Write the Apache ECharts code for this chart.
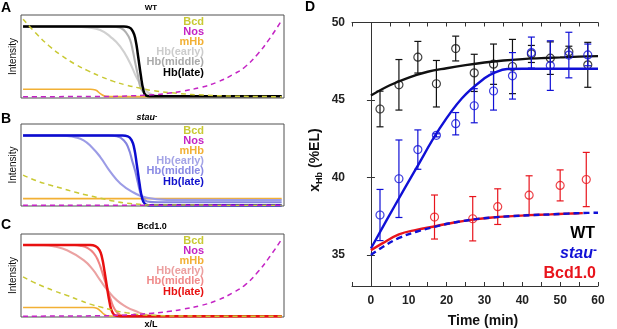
<!DOCTYPE html>
<html><head><meta charset="utf-8">
<script src="https://cdn.jsdelivr.net/npm/echarts@6/dist/echarts.min.js"></script>
<style>html,body{margin:0;padding:0;background:#fff}#c{width:617px;height:329px}</style>
</head><body><div id="c"></div>
<script>
// ---------- Panels A-C : schematic profiles [x/L, relative intensity 0-100] ----------
const aBcd = [[0,95],[0.05,78],[0.1,63],[0.15,51],[0.2,41],[0.25,33],[0.3,26],[0.35,20],[0.4,15.5],[0.45,12],[0.5,9],[0.6,5.5],[0.7,3.5],[0.8,2.4],[0.9,1.8],[1,1.6]];
const aNos = [[0,1.6],[0.3,1.8],[0.4,2.4],[0.5,3.8],[0.56,5.6],[0.62,8.5],[0.69,13],[0.75,19],[0.81,28],[0.86,38],[0.91,54],[0.95,70],[1,93.5]];
const aMHb = [[0,10.5],[0.26,10.5],[0.28,9.5],[0.3,5],[0.32,2],[0.35,1.6],[1,1.6]];
const aEarly = [[0,86],[0.2,86],[0.25,85],[0.298,82],[0.337,74],[0.376,62],[0.414,42],[0.44,24],[0.466,12],[0.5,4],[0.55,2],[1,1.6]];
const aMiddle = [[0,86],[0.33,86],[0.36,85.5],[0.38,84],[0.4,78],[0.414,70],[0.425,56],[0.434,42],[0.445,26],[0.453,14],[0.465,7],[0.48,3.5],[0.5,2],[1,1.6]];
const aLate = [[0,86],[0.39,86],[0.41,85],[0.425,80],[0.435,70],[0.445,50],[0.455,28],[0.465,10],[0.475,3],[0.49,2],[1,2]];

const bBcd = [[0,37.7],[0.05,31],[0.1,26],[0.15,21.5],[0.2,17],[0.25,13],[0.3,9.5],[0.35,6],[0.4,3.5],[0.45,2],[0.5,1.2],[1,1]];
const bNos = [[0,0.8],[1,0.8]];
const bMHb = [[0,9],[1,9]];
const bEarly = [[0,86],[0.14,86],[0.17,85.5],[0.2,84],[0.234,80],[0.265,72],[0.298,60],[0.337,42],[0.376,27.5],[0.427,16.5],[0.479,10],[0.556,7.5],[1,7.4]];
const bMiddle = [[0,86],[0.33,86],[0.362,85],[0.39,80],[0.408,70],[0.422,55],[0.434,42],[0.445,27],[0.453,17],[0.465,9],[0.48,5.5],[0.52,4.5],[1,4.5]];
const bLate = [[0,86],[0.385,86],[0.405,85],[0.42,80],[0.43,70],[0.44,50],[0.45,28],[0.46,10],[0.47,3],[0.485,1],[1,1]];

const cBcd = [[0,48.4],[0.04,42],[0.08,36.5],[0.12,31.5],[0.17,26],[0.22,20],[0.26,15.5],[0.3,12],[0.35,8],[0.4,5],[0.45,3],[0.5,2],[0.6,1.2],[1,0.8]];
const cNos = [[0,1],[0.3,1.5],[0.4,2.5],[0.5,4.5],[0.56,6.5],[0.62,9.5],[0.69,14],[0.75,20],[0.81,29],[0.86,39],[0.91,55],[0.95,71],[1,93.6]];
const cMHb = [[0,11.4],[0.27,11.4],[0.285,10.5],[0.3,7],[0.315,3],[0.33,1.2],[1,1]];
const cEarly = [[0,86.7],[0.08,86.5],[0.12,85],[0.17,80.5],[0.234,68.6],[0.27,57],[0.298,44.4],[0.33,31],[0.363,20],[0.4,12],[0.427,8],[0.49,2],[0.55,1],[1,0.8]];
const cMiddle = [[0,86.7],[0.2,86.7],[0.221,86],[0.25,83],[0.273,77],[0.29,68],[0.305,55],[0.324,36],[0.34,20],[0.355,9],[0.376,2.5],[0.4,1],[1,0.8]];
const cLate = [[0,86.7],[0.26,86.7],[0.28,85.5],[0.295,81],[0.305,72],[0.315,55],[0.325,35],[0.335,17],[0.345,6],[0.36,1.5],[0.4,0.8],[1,0.8]];

const legendLabels = ['Bcd','Nos','mHb','Hb(early)','Hb(middle)','Hb(late)'];

// ---------- Panel D : boundary position x_Hb (%EL) vs time (min) ----------
const wtTime   = [2.4, 7.4, 12.4, 17.3, 22.4, 27.3, 32.4, 37.4, 42.4, 47.4, 52.3, 57.3];
const wtMean   = [44.42, 45.98, 47.76, 46.05, 48.32, 46.75, 47.31, 47.16, 47.97, 47.7, 48.12, 47.27];
const wtErr    = [1.15, 1.63, 1.02, 1.5, 0.8, 1.2, 1.3, 1.75, 0.55, 1.05, 0.35, 1.45];
const stauTime = [2.4, 7.4, 12.4, 17.3, 22.4, 27.3, 32.4, 37.4, 42.4, 47.4, 52.3, 57.3];
const stauMean = [37.58, 39.92, 41.8, 42.72, 43.47, 44.63, 45.58, 46.56, 48.06, 47.22, 47.9, 47.91];
const stauErr  = [1.65, 2.5, 1.27, 0.1, 0.72, 1.1, 1.23, 1.5, 1.0, 1.6, 1.47, 0.7];
const bcdTime  = [16.8, 26.9, 33.5, 41.8, 50.0, 56.9];
const bcdMean  = [37.45, 37.34, 38.12, 38.86, 39.49, 39.87];
const bcdErr   = [1.42, 1.43, 1.15, 1.25, 1.0, 1.75];

const wtFitT = [0, 5, 10, 15, 20, 25, 30, 35, 40, 45, 50, 55, 60];
const wtFitY = [45.29, 45.95, 46.45, 46.82, 47.05, 47.25, 47.42, 47.55, 47.64, 47.7, 47.75, 47.8, 47.83];
const stauFitT = [0, 6, 12, 18, 24, 30, 33, 36, 40, 50, 60];
const stauFitY = [35.42, 38.05, 40.6, 43.1, 45.1, 46.4, 46.8, 47.0, 47.02, 47.02, 47.02];
const bcdFitT = [0, 3, 7.4, 12, 17.3, 22, 27.3, 32, 37.4, 42, 47.4, 52, 56];
const bcdFitY = [35.3, 35.75, 36.33, 36.62, 36.87, 37.1, 37.3, 37.42, 37.51, 37.57, 37.62, 37.67, 37.7];
const stauDashT = [0, 3, 7.4, 12, 17.3, 22, 27.3, 32, 37.4, 42, 47.4, 52, 56, 60];
const stauDashY = [35.0, 35.5, 36.1, 36.5, 36.85, 37.1, 37.3, 37.42, 37.51, 37.57, 37.62, 37.67, 37.71, 37.73];
const yTicks = [35, 40, 45, 50];

// ---------- styles ----------
const FONT = 'Liberation Sans, Arial, Helvetica, sans-serif';
const colBcd = '#c9c934', colNos = '#c424c4', colMHb = '#f2b034';
const panels = [
  {grid:{left:21, top:15, width:263, height:83}, sets:[aBcd,aNos,aMHb,aEarly,aMiddle,aLate], hb:['#d0d0d0','#b0b0b0','#000000'], hbText:['#cccccc','#aaaaaa','#000000']},
  {grid:{left:21, top:124, width:263, height:82}, sets:[bBcd,bNos,bMHb,bEarly,bMiddle,bLate], hb:['#9c9ce6','#8484e0','#0c0cd0'], hbText:['#a4a4e6','#8a8ae4','#1010cc']},
  {grid:{left:21, top:234, width:263, height:83}, sets:[cBcd,cNos,cMHb,cEarly,cMiddle,cLate], hb:['#eba2a2','#f08282','#e81010'], hbText:['#eca0a0','#f08a8a','#e81010']}
];

const grids = [], xAxes = [], yAxes = [], series = [], graphics = [];
panels.forEach((p, i) => {
  grids.push(Object.assign({show:true, borderColor:'#505050', borderWidth:1}, p.grid));
  xAxes.push({type:'value', gridIndex:i, min:-0.008, max:1.009, show:false});
  yAxes.push({type:'value', gridIndex:i, min:0, max:100, show:false});
  const mk = (data, color, width, dashed, z) => ({
    type:'line', xAxisIndex:i, yAxisIndex:i, data:data, showSymbol:false, silent:true,
    smooth:0.5, z:z,
    lineStyle:{color:color, width:width, type: dashed ? [5,4] : 'solid'}
  });
  series.push(mk(p.sets[2], colMHb, 1.6, false, 2));
  series.push(mk(p.sets[3], p.hb[0], 2.1, false, 3));
  series.push(mk(p.sets[4], p.hb[1], 2.1, false, 4));
  series.push(mk(p.sets[5], p.hb[2], 2.5, false, 5));
  series.push(mk(p.sets[0], colBcd, 1.5, true, 6));
  series.push(mk(p.sets[1], colNos, 1.5, true, 7));
  const textCols = [colBcd, colNos, colMHb].concat(p.hbText);
  legendLabels.forEach((lab, k) => {
    graphics.push({type:'text', x:204, y:p.grid.top + 7 + k*10.1, z:10, silent:true,
      style:{text:lab, fill:textCols[k], font:'bold 11px ' + FONT, align:'right', verticalAlign:'middle', textAlign:'right', textVerticalAlign:'middle'}});
  });
  graphics.push({type:'text', x:13, y:p.grid.top + p.grid.height/2, rotation:Math.PI/2, silent:true,
    style:{text:'Intensity', fill:'#111', font:'10px ' + FONT, align:'center', verticalAlign:'middle', textAlign:'center', textVerticalAlign:'middle'}});
});

// Panel D grid & axes
grids.push({left:352, top:22.5, width:246, height:263.5});
const tickStyle = {show:true, inside:true, length:4, lineStyle:{color:'#333', width:1}};
const labStyle = {color:'#222', fontSize:12, fontWeight:'bold', fontFamily:FONT};
xAxes.push({type:'value', gridIndex:3, min:-5, max:60, interval:5,
  axisLine:{show:true, lineStyle:{color:'#333', width:1}}, axisTick:tickStyle, splitLine:{show:false},
  axisLabel:Object.assign({margin:9, formatter: v => (v >= 0 && v % 10 === 0) ? String(v) : ''}, labStyle)});
xAxes.push({type:'value', gridIndex:3, position:'top', min:-5, max:60, interval:5,
  axisLine:{show:true, lineStyle:{color:'#333', width:1}}, axisTick:tickStyle, splitLine:{show:false}, axisLabel:{show:false}});
yAxes.push({type:'value', gridIndex:3, min:33, max:50,
  axisLine:{show:true, lineStyle:{color:'#333', width:1}},
  axisTick:Object.assign({customValues:yTicks}, tickStyle), splitLine:{show:false},
  axisLabel:Object.assign({margin:7, customValues:yTicks}, labStyle)});
yAxes.push({type:'value', gridIndex:3, position:'right', min:33, max:50,
  axisLine:{show:true, lineStyle:{color:'#333', width:1}},
  axisTick:Object.assign({customValues:yTicks}, tickStyle), splitLine:{show:false}, axisLabel:{show:false}});

const zip2 = (a, b) => a.map((v, k) => [v, b[k]]);
const zip3 = (a, b, c) => a.map((v, k) => [v, b[k], c[k]]);
const fitLine = (t, y, color, dashed, z) => ({type:'line', xAxisIndex:3, yAxisIndex:3, data:zip2(t, y), showSymbol:false, silent:true, z:z,
  smooth:0.4, lineStyle:{color:color, width:2.4, type: dashed ? [6,4] : 'solid'}});
const errBars = (t, m, e, color, z) => ({type:'custom', xAxisIndex:3, yAxisIndex:3, data:zip3(t, m, e), silent:true, z:z,
  renderItem: (params, api) => {
    const x = api.value(0), y = api.value(1), d = api.value(2);
    const hi = api.coord([x, y + d]), lo = api.coord([x, y - d]);
    const cap = 3.5, st = {stroke:color, lineWidth:1.2};
    return {type:'group', children:[
      {type:'line', shape:{x1:hi[0], y1:hi[1], x2:lo[0], y2:lo[1]}, style:st},
      {type:'line', shape:{x1:hi[0]-cap, y1:hi[1], x2:hi[0]+cap, y2:hi[1]}, style:st},
      {type:'line', shape:{x1:lo[0]-cap, y1:lo[1], x2:lo[0]+cap, y2:lo[1]}, style:st}
    ]};
  }});
const pts = (t, m, color, z) => ({type:'scatter', xAxisIndex:3, yAxisIndex:3, data:zip2(t, m), silent:true, z:z,
  symbol:'circle', symbolSize:8, itemStyle:{color:'rgba(0,0,0,0)', borderColor:color, borderWidth:1.2}});

const colWT = '#111111', colStau = '#1010d6', colBcd10 = '#e8141c';
series.push(errBars(wtTime, wtMean, wtErr, colWT, 2));
series.push(pts(wtTime, wtMean, colWT, 3));
series.push(fitLine(wtFitT, wtFitY, colWT, false, 4));
series.push(errBars(stauTime, stauMean, stauErr, colStau, 5));
series.push(pts(stauTime, stauMean, colStau, 6));
series.push(fitLine(stauFitT, stauFitY, colStau, false, 7));
series.push(errBars(bcdTime, bcdMean, bcdErr, colBcd10, 8));
series.push(pts(bcdTime, bcdMean, colBcd10, 9));
series.push(fitLine(bcdFitT, bcdFitY, colBcd10, false, 10));
series.push(fitLine(stauDashT, stauDashY, colStau, true, 11));

// text decorations
const T = (x, y, text, font, fill, align, extra) => Object.assign({type:'text', x:x, y:y, silent:true, z:20,
  style:{text:text, font:font, fill:fill, align:align||'center', verticalAlign:'middle', textAlign:align||'center', textVerticalAlign:'middle'}}, extra||{});
graphics.push(T(6, 8, 'A', 'bold 14px ' + FONT, '#000'));
graphics.push(T(6, 119, 'B', 'bold 14px ' + FONT, '#000'));
graphics.push(T(6, 225, 'C', 'bold 14px ' + FONT, '#000'));
graphics.push(T(310, 7, 'D', 'bold 14px ' + FONT, '#000'));
graphics.push(T(151, 8, 'WT', 'bold 8px ' + FONT, '#000'));
graphics.push({type:'text', x:147, y:118, silent:true, z:20,
  style:{text:'{i|stau}{s|-}', align:'center', verticalAlign:'middle', textAlign:'center', textVerticalAlign:'middle',
    rich:{i:{font:'italic bold 9px ' + FONT, fill:'#000', lineHeight:11}, s:{font:'bold 7px ' + FONT, fill:'#000', verticalAlign:'top', lineHeight:7}}}});
graphics.push(T(152, 227, 'Bcd1.0', 'bold 9px ' + FONT, '#000'));
graphics.push(T(151, 325, 'x/L', 'bold 9px ' + FONT, '#000'));
graphics.push(T(483, 321, 'Time (min)', 'bold 14px ' + FONT, '#111'));
graphics.push({type:'text', x:315.5, y:160, rotation:Math.PI/2, silent:true, z:20,
  style:{text:'{a|x}{b|Hb}{a| (%EL)}', align:'center', verticalAlign:'middle', textAlign:'center', textVerticalAlign:'middle',
    rich:{a:{font:'bold 14px ' + FONT, fill:'#111', lineHeight:18}, b:{font:'bold 9px ' + FONT, fill:'#111', verticalAlign:'bottom', lineHeight:8}}}});
graphics.push(T(595, 233.5, 'WT', 'bold 16px ' + FONT, '#000', 'right'));
graphics.push({type:'text', x:597, y:254, silent:true, z:20,
  style:{text:'{i|stau}{s|-}', align:'right', verticalAlign:'middle', textAlign:'right', textVerticalAlign:'middle',
    rich:{i:{font:'italic bold 16px ' + FONT, fill:colStau, lineHeight:18}, s:{font:'bold 12px ' + FONT, fill:colStau, verticalAlign:'top', lineHeight:10}}}});
graphics.push(T(596, 273.5, 'Bcd1.0', 'bold 16px ' + FONT, colBcd10, 'right'));

const chart = echarts.init(document.getElementById('c'), null, {renderer:'canvas'});
chart.setOption({
  animation:false, backgroundColor:'#ffffff',
  grid:grids, xAxis:xAxes, yAxis:yAxes, series:series, graphic:{elements:graphics}
});
</script></body></html>
